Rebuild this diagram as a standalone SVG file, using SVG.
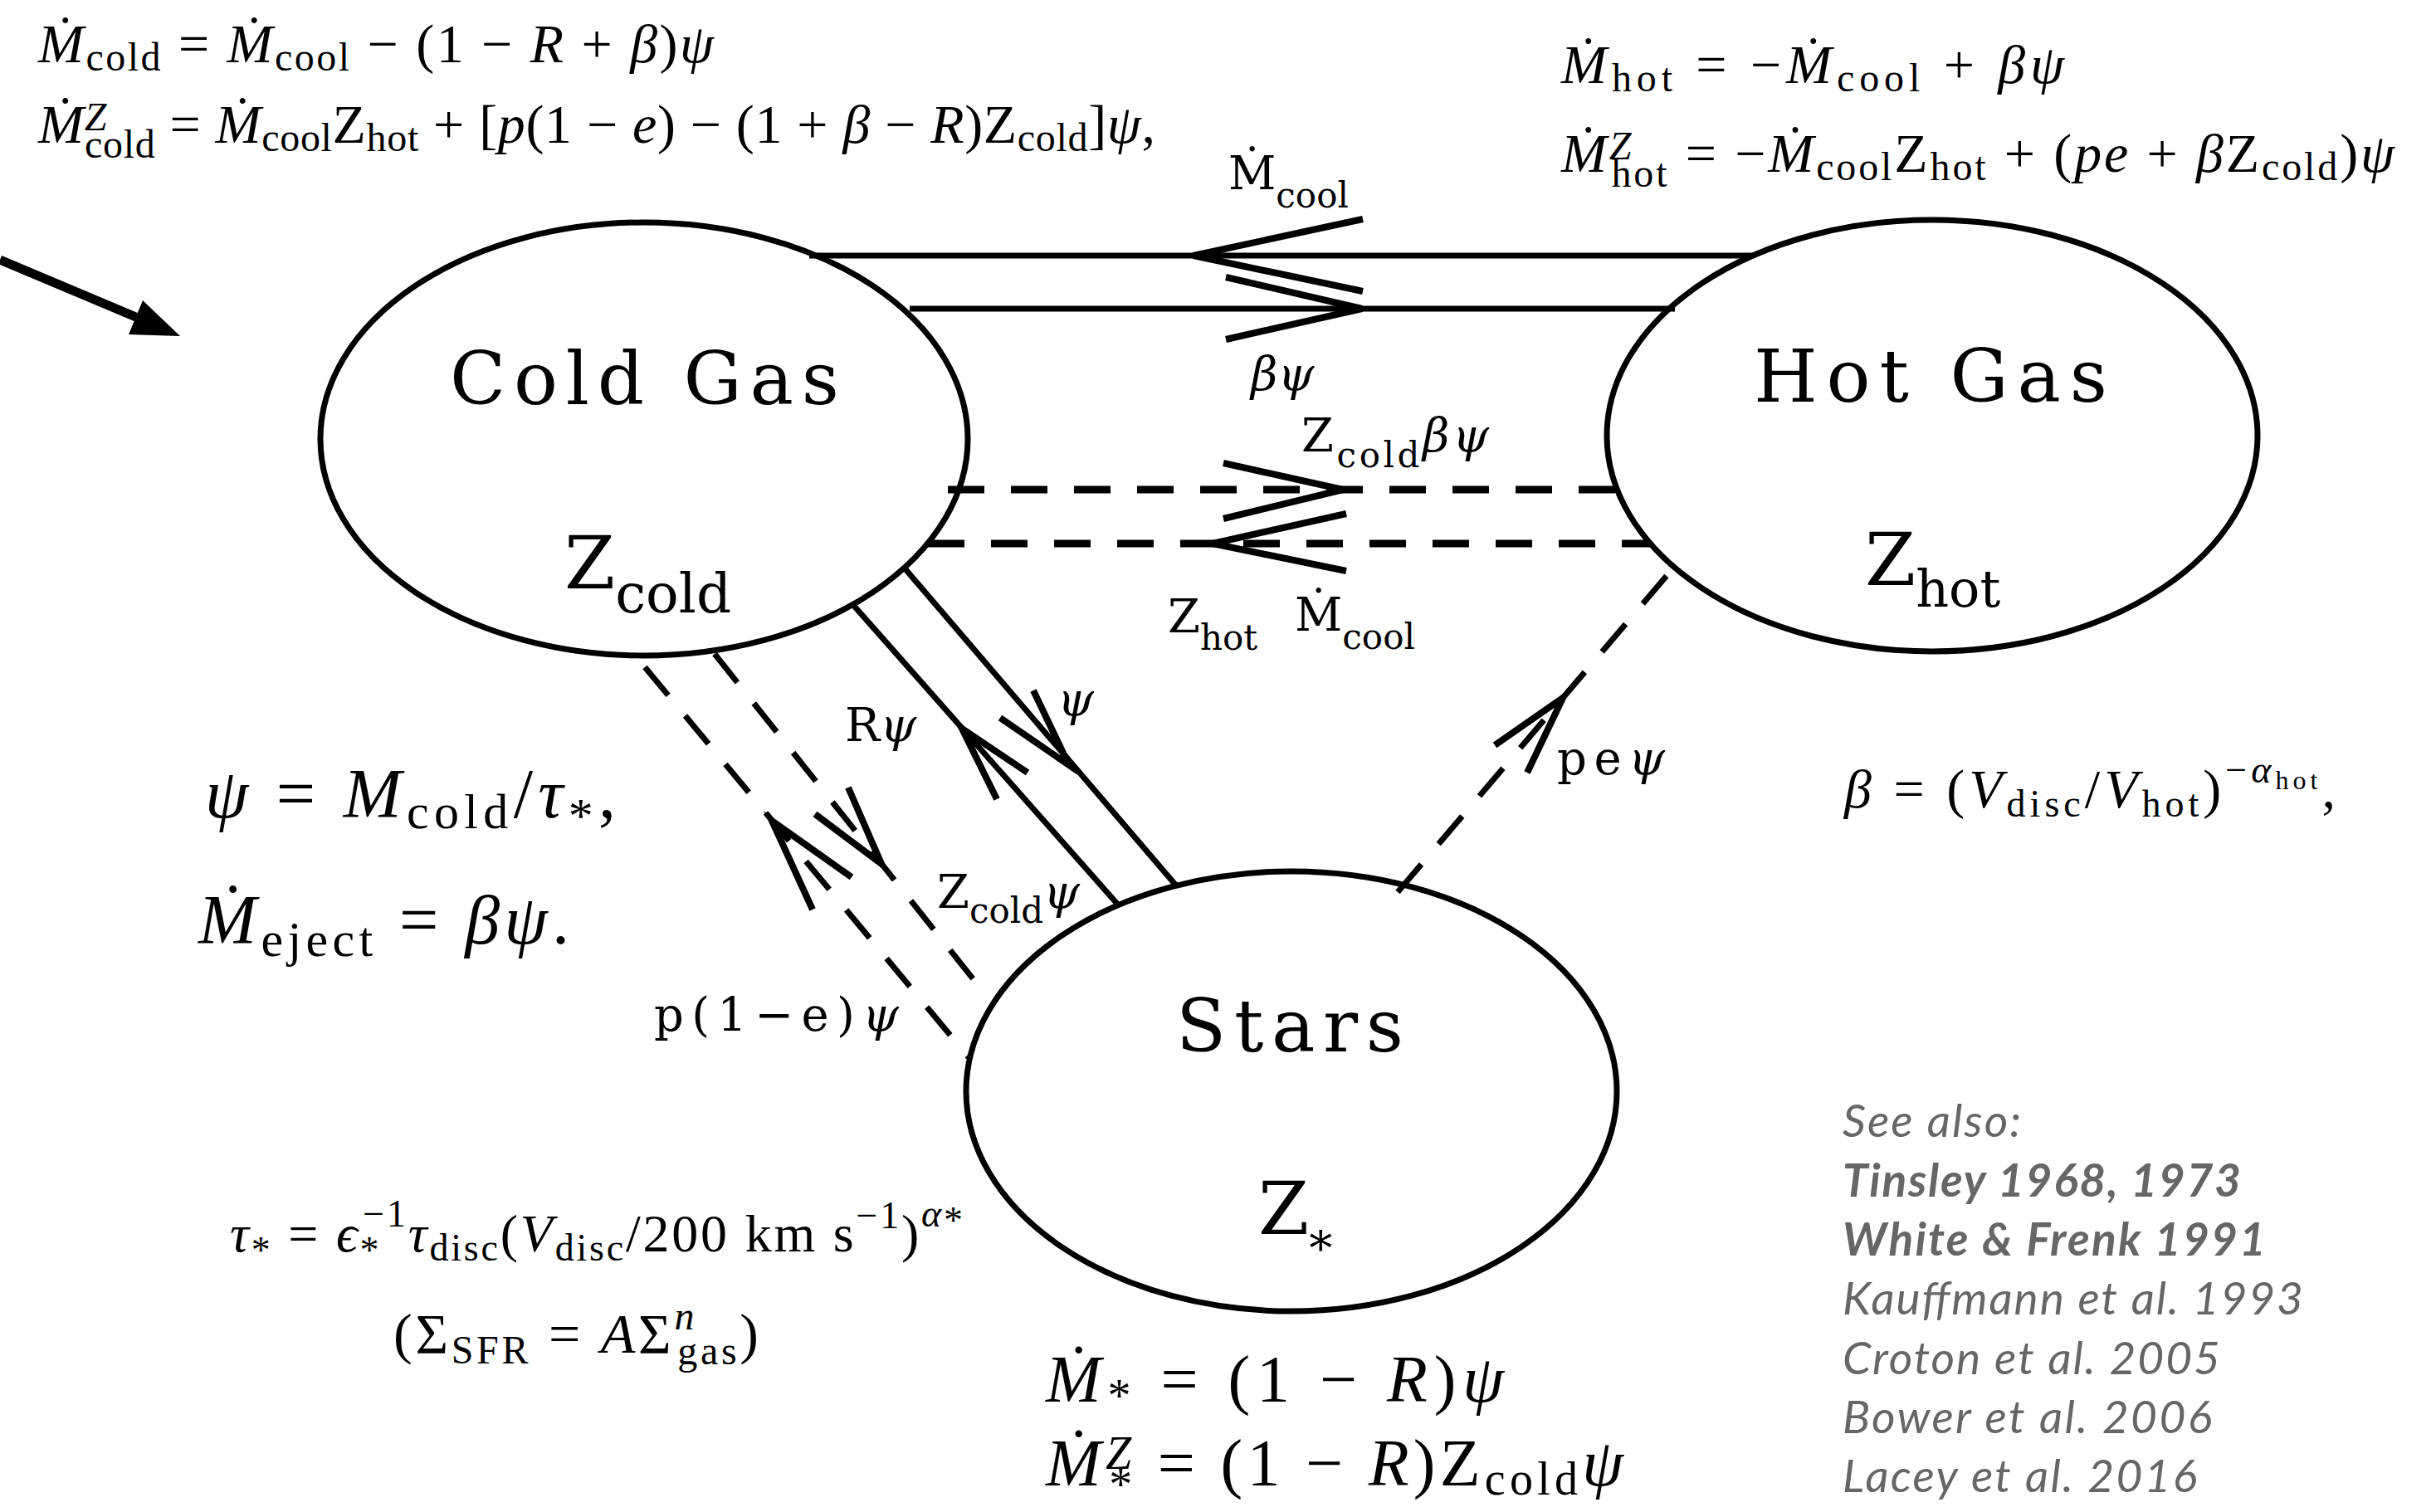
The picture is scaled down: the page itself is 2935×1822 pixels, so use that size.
<svg xmlns="http://www.w3.org/2000/svg" width="2935" height="1822" viewBox="0 0 2935 1822">
<style>
.node{fill:none;stroke:#000;stroke-width:7}
.ln{fill:none;stroke:#000;stroke-width:7}
.dash{fill:none;stroke:#000;stroke-width:9;stroke-dasharray:44 32}
.ddash{fill:none;stroke:#000;stroke-width:7;stroke-dasharray:44 32}
.ah{fill:none;stroke:#000;stroke-width:8}
.title{font-family:"DejaVu Serif",serif;font-size:88px;fill:#000}
.lbl{font-family:"DejaVu Serif",serif;font-size:56px;fill:#000}
.eq{font-family:"Liberation Serif",serif;fill:#000}
.i{font-style:italic}
.ref{font-family:Lato,"Open Sans",sans-serif;font-style:italic;font-size:55px;fill:#666}
.b{font-weight:bold}
</style>
<rect width="2935" height="1822" fill="#fff"/>

<g id="connectors">
  <line class="ln" x1="975" y1="308" x2="2113" y2="308"/>
  <polyline class="ah" points="1642,264 1438,308 1642,351"/>
  <line class="ln" x1="1096" y1="372" x2="2018" y2="372"/>
  <polyline class="ah" points="1477,334 1641,372 1477,409"/>
  <line class="dash" x1="1142" y1="590" x2="1950" y2="590"/>
  <polyline class="ah" points="1474,558 1618,590 1474,625"/>
  <line class="dash" x1="1118" y1="655" x2="1988" y2="655"/>
  <polyline class="ah" points="1622,619 1461,655 1622,688"/>
  <line class="ln" x1="1028" y1="729" x2="1346" y2="1089"/>
  <polyline class="ah" points="1201,963 1159,878 1238,931"/>
  <line class="ln" x1="1091" y1="686" x2="1417" y2="1067"/>
  <polyline class="ah" points="1245,832 1288,922 1205,865"/>
  <line class="ddash" x1="777" y1="804" x2="1167" y2="1274"/>
  <polyline class="ah" points="979,1096 930,989 1026,1057"/>
  <line class="ddash" x1="861" y1="788" x2="1191" y2="1203"/>
  <polyline class="ah" points="1022,949 1062,1041 982,981"/>
  <line class="ddash" x1="1684" y1="1075" x2="2013" y2="688"/>
  <polyline class="ah" points="1801,898 1883,841 1840,931"/>
  <line x1="0" y1="313" x2="166" y2="383" stroke="#000" stroke-width="11"/>
  <polygon points="217,405 155,403 172,362" fill="#000"/>
</g>

<g id="cold-gas">
  <ellipse class="node" cx="776" cy="529" rx="390" ry="261"/>
  <text class="title" x="542" y="487" textLength="469" lengthAdjust="spacing">Cold Gas</text>
  <text class="title" x="680" y="709" font-size="95">Z<tspan font-size="66" dy="29">cold</tspan></text>
</g>
<g id="hot-gas">
  <ellipse class="node" cx="2328" cy="525" rx="392" ry="260"/>
  <text class="title" x="2113" y="484" textLength="426" lengthAdjust="spacing">Hot Gas</text>
  <text class="title" x="2247" y="705" font-size="95">Z<tspan font-size="62" dy="26">hot</tspan></text>
</g>
<g id="stars">
  <ellipse class="node" cx="1556" cy="1315" rx="392" ry="265"/>
  <text class="title" x="1417" y="1267" textLength="274" lengthAdjust="spacing">Stars</text>
  <text class="title" x="1516" y="1487">Z<tspan font-size="56" dy="37">*</tspan></text>
</g>

<g id="labels">
  <text class="lbl" x="1480" y="228">Ṁ<tspan font-size="42" dy="22">cool</tspan></text>
  <text class="lbl i" x="1507" y="470">βψ</text>
  <text class="lbl" x="1568" y="544" textLength="226" lengthAdjust="spacing">Z<tspan font-size="42" dy="19">cold</tspan><tspan class="i" dy="-19">βψ</tspan></text>
  <text class="lbl" x="1407" y="762">Z<tspan font-size="42" dy="21">hot</tspan><tspan x="1560" dy="-23">Ṁ</tspan><tspan font-size="42" dy="22">cool</tspan></text>
  <text class="lbl i" x="1274" y="862">ψ</text>
  <text class="lbl" x="1018" y="893">R<tspan class="i">ψ</tspan></text>
  <text class="lbl" x="1129" y="1094">Z<tspan font-size="42" dy="18">cold</tspan><tspan class="i" dy="-18">ψ</tspan></text>
  <text class="lbl" x="788" y="1242" textLength="295" lengthAdjust="spacing">p(1−e)<tspan class="i">ψ</tspan></text>
  <text class="lbl" x="1876" y="933" textLength="130" lengthAdjust="spacing">pe<tspan class="i">ψ</tspan></text>
</g>

<g id="equations">
  <text class="eq" x="46" y="75" font-size="66" textLength="814" lengthAdjust="spacing"><tspan class="i">Ṁ</tspan><tspan font-size="48" dy="10">cold</tspan><tspan dy="-10"> = </tspan><tspan class="i">Ṁ</tspan><tspan font-size="48" dy="10">cool</tspan><tspan dy="-10"> − (1 − </tspan><tspan class="i">R</tspan> + <tspan class="i">β</tspan>)<tspan class="i">ψ</tspan></text>
  <text class="eq" x="46" y="172" font-size="66" textLength="1346" lengthAdjust="spacing"><tspan class="i">Ṁ</tspan><tspan class="i" font-size="48" dy="-15">Z</tspan><tspan font-size="48" dx="-27" dy="33">cold</tspan><tspan dy="-18"> = </tspan><tspan class="i">Ṁ</tspan><tspan font-size="48" dy="10">cool</tspan><tspan dy="-10">Z</tspan><tspan font-size="48" dy="10">hot</tspan><tspan dy="-10"> + [</tspan><tspan class="i">p</tspan>(1 − <tspan class="i">e</tspan>) − (1 + <tspan class="i">β</tspan> − <tspan class="i">R</tspan>)Z<tspan font-size="48" dy="10">cold</tspan><tspan dy="-10">]</tspan><tspan class="i">ψ</tspan>,</text>
  <text class="eq" x="1881" y="100" font-size="66" textLength="606" lengthAdjust="spacing"><tspan class="i">Ṁ</tspan><tspan font-size="48" dy="10">hot</tspan><tspan dy="-10"> = −</tspan><tspan class="i">Ṁ</tspan><tspan font-size="48" dy="10">cool</tspan><tspan dy="-10"> + </tspan><tspan class="i">βψ</tspan></text>
  <text class="eq" x="1881" y="207" font-size="66" textLength="1004" lengthAdjust="spacing"><tspan class="i">Ṁ</tspan><tspan class="i" font-size="48" dy="-15">Z</tspan><tspan font-size="48" dx="-27" dy="33">hot</tspan><tspan dy="-18"> = −</tspan><tspan class="i">Ṁ</tspan><tspan font-size="48" dy="10">cool</tspan><tspan dy="-10">Z</tspan><tspan font-size="48" dy="10">hot</tspan><tspan dy="-10"> + (</tspan><tspan class="i">pe</tspan> + <tspan class="i">β</tspan>Z<tspan font-size="48" dy="10">cold</tspan><tspan dy="-10">)</tspan><tspan class="i">ψ</tspan></text>
  <text class="eq" x="247" y="985" font-size="84" textLength="495" lengthAdjust="spacing"><tspan class="i">ψ</tspan> = <tspan class="i">M</tspan><tspan font-size="60" dy="13">cold</tspan><tspan dy="-13">/</tspan><tspan class="i">τ</tspan><tspan font-size="60" dy="18">*</tspan><tspan dy="-18">,</tspan></text>
  <text class="eq" x="239" y="1137" font-size="84" textLength="447" lengthAdjust="spacing"><tspan class="i">Ṁ</tspan><tspan font-size="60" dy="15">eject</tspan><tspan dy="-15"> = </tspan><tspan class="i">βψ</tspan>.</text>
  <text class="eq" x="277" y="1508" font-size="64" textLength="883" lengthAdjust="spacing"><tspan class="i">τ</tspan><tspan font-size="46" dy="14">*</tspan><tspan dy="-14"> = </tspan><tspan class="i">ϵ</tspan><tspan font-size="46" dy="14">*</tspan><tspan font-size="46" dx="-22" dy="-44">−1</tspan><tspan class="i" dy="30">τ</tspan><tspan font-size="46" dy="11">disc</tspan><tspan dy="-11">(</tspan><tspan class="i">V</tspan><tspan font-size="46" dy="11">disc</tspan><tspan dy="-11">/200 km s</tspan><tspan font-size="46" dy="-28">−1</tspan><tspan dy="28">)</tspan><tspan class="i" font-size="46" dy="-30">α</tspan><tspan font-size="46" dy="8">*</tspan></text>
  <text class="eq" x="474" y="1630" font-size="68" textLength="440" lengthAdjust="spacing">(Σ<tspan font-size="48" dy="13">SFR</tspan><tspan dy="-13"> = </tspan><tspan class="i">A</tspan>Σ<tspan class="i" font-size="48" dy="-28">n</tspan><tspan font-size="48" dx="-24" dy="42">gas</tspan><tspan dy="-14">)</tspan></text>
  <text class="eq" x="1260" y="1689" font-size="80" textLength="552" lengthAdjust="spacing"><tspan class="i">Ṁ</tspan><tspan font-size="56" dy="12">*</tspan><tspan dy="-12"> = (1 − </tspan><tspan class="i">R</tspan>)<tspan class="i">ψ</tspan></text>
  <text class="eq" x="1260" y="1790" font-size="80" textLength="696" lengthAdjust="spacing"><tspan class="i">Ṁ</tspan><tspan class="i" font-size="56" dy="-20">Z</tspan><tspan font-size="56" dx="-32" dy="38">*</tspan><tspan dy="-18"> = (1 − </tspan><tspan class="i">R</tspan>)Z<tspan font-size="56" dy="11">cold</tspan><tspan class="i" dy="-11">ψ</tspan></text>
  <text class="eq" x="2222" y="973" font-size="66" textLength="592" lengthAdjust="spacing"><tspan class="i">β</tspan> = (<tspan class="i">V</tspan><tspan font-size="46" dy="11">disc</tspan><tspan dy="-11">/</tspan><tspan class="i">V</tspan><tspan font-size="46" dy="11">hot</tspan><tspan dy="-11">)</tspan><tspan font-size="46" dy="-30">−</tspan><tspan class="i" font-size="46">α</tspan><tspan font-size="32" dy="8">hot</tspan><tspan dy="22">,</tspan></text>
</g>

<g id="references">
  <text class="ref" x="2220" y="1370" textLength="215" lengthAdjust="spacing">See also:</text>
  <text class="ref b" x="2220" y="1442" textLength="480" lengthAdjust="spacing">Tinsley 1968, 1973</text>
  <text class="ref b" x="2220" y="1513" textLength="510" lengthAdjust="spacing">White &amp; Frenk 1991</text>
  <text class="ref" x="2220" y="1584" textLength="555" lengthAdjust="spacing">Kauffmann et al. 1993</text>
  <text class="ref" x="2220" y="1656" textLength="455" lengthAdjust="spacing">Croton et al. 2005</text>
  <text class="ref" x="2220" y="1727" textLength="445" lengthAdjust="spacing">Bower et al. 2006</text>
  <text class="ref" x="2220" y="1798" textLength="427" lengthAdjust="spacing">Lacey et al. 2016</text>
</g>
</svg>
